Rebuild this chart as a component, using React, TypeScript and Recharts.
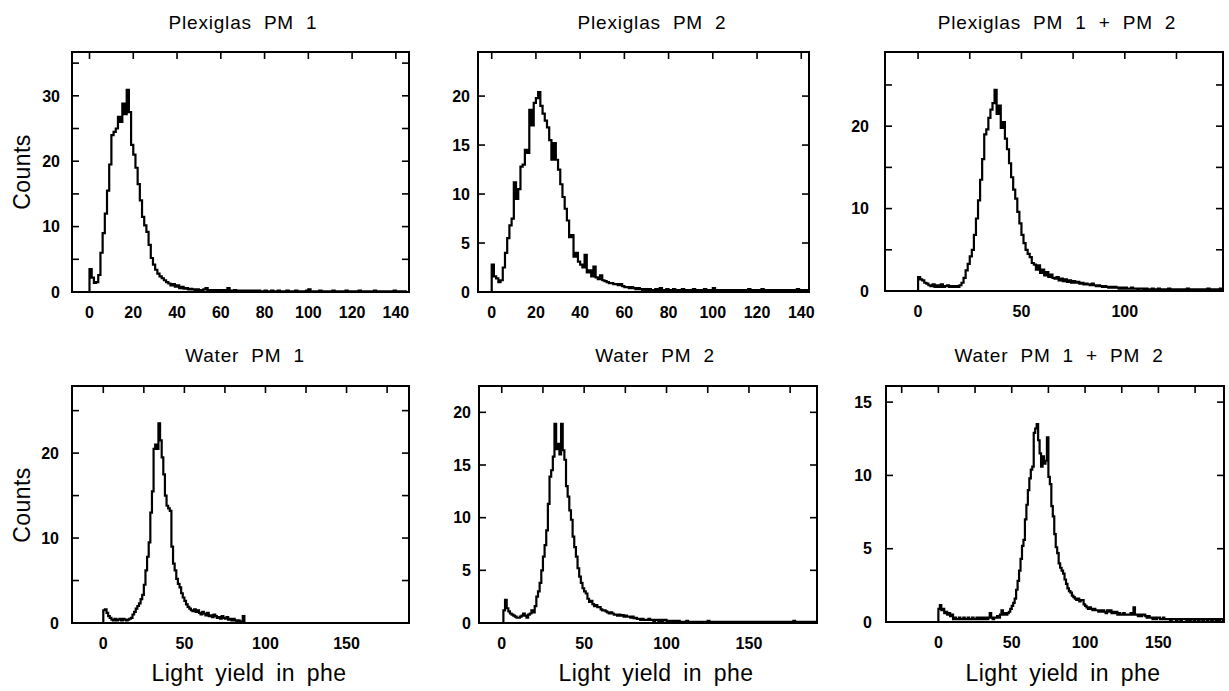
import React from "react";
import { LineChart, Line, XAxis, YAxis } from "recharts";

// every histogram: 1 phe wide bins, first bin at -1 phe
const BIN_START = -1;

const plexPm1Counts = [
  0,
  3.5, 2.2, 1.4, 1.5, 2.6, 6.0, 9.0, 12.0, 15.5, 19.5,
  24.0, 24.5, 25.0, 26.8, 26.0, 28.8, 27.2, 30.9, 27.5, 22.5,
  21.0, 19.0, 16.5, 14.0, 11.5, 10.2, 9.2, 7.2, 5.2, 4.2,
  3.4, 2.8, 2.4, 2.1, 1.8, 1.5, 1.3, 1.0, 1.2, 0.8,
  1.0, 0.6, 0.8, 0.5, 0.6, 0.4, 0.5, 0.4, 0.3, 0.4,
  0.3, 0.3, 0.4, 0.6, 0.3, 0.3, 0.2, 0.3, 0.2, 0.3,
  0.2, 0.3, 0.2, 0.6, 0.2, 0.2, 0.3, 0.2, 0.1, 0.2,
  0.2, 0.1, 0.2, 0.2, 0.1, 0.2, 0.1, 0.2, 0.1, 0.1,
  0.2, 0.1, 0.1, 0.2, 0.1, 0.1, 0.2, 0.1, 0.1, 0.1,
  0.2, 0.1, 0.1, 0.1, 0.2, 0.1, 0.1, 0.1, 0.1, 0.2,
  0.4, 0.1, 0.1, 0.1, 0.1, 0.2, 0.1, 0.1, 0.1, 0.1,
  0.1, 0.2, 0.1, 0.1, 0.1, 0.1, 0.1, 0.2, 0.1, 0.1,
  0.1, 0.1, 0.1, 0.2, 0.1, 0.1, 0.1, 0.1, 0.1, 0.1,
  0.2, 0.1, 0.1, 0.1, 0.1, 0.1, 0.1, 0.1, 0.1, 0.2,
  0.1, 0.1, 0.1, 0.1, 0.1, 0.1,
];

const plexPm2Counts = [
  0,
  2.8, 1.6, 1.4, 1.0, 1.2, 2.5, 4.0, 5.5, 6.8, 7.5,
  11.2, 9.5, 10.5, 12.8, 13.0, 14.5, 14.2, 18.6, 17.0, 19.3,
  19.8, 20.4, 19.0, 18.2, 17.5, 16.8, 15.5, 13.5, 15.2, 13.5,
  12.5, 11.0, 9.7, 8.5, 7.3, 5.6, 5.8, 3.6, 4.0, 3.1,
  2.8, 2.5, 3.8, 2.0, 2.2, 1.6, 2.6, 1.5, 1.3, 1.7,
  1.2, 1.1, 1.0, 0.9, 0.9, 0.8, 0.8, 0.7, 0.8, 0.6,
  0.5, 0.5, 0.4, 0.5, 0.4, 0.3, 0.4, 0.3, 0.2, 0.3,
  0.2, 0.3, 0.2, 0.2, 0.3, 0.2, 0.4, 0.2, 0.2, 0.3,
  0.2, 0.2, 0.3, 0.2, 0.2, 0.2, 0.3, 0.2, 0.2, 0.2,
  0.2, 0.3, 0.2, 0.2, 0.2, 0.2, 0.3, 0.2, 0.2, 0.2,
  0.4, 0.2, 0.2, 0.2, 0.2, 0.2, 0.2, 0.2, 0.2, 0.2,
  0.2, 0.2, 0.2, 0.2, 0.2, 0.2, 0.3, 0.2, 0.2, 0.2,
  0.2, 0.2, 0.3, 0.2, 0.2, 0.2, 0.2, 0.2, 0.2, 0.2,
  0.2, 0.2, 0.2, 0.2, 0.2, 0.2, 0.2, 0.2, 0.3, 0.2,
  0.2, 0.2, 0.2, 0.2, 0.2,
];

const plexSumCounts = [
  0,
  1.7, 1.4, 1.3, 1.0, 0.9, 0.7, 0.6, 0.8, 0.5, 0.7,
  0.5, 0.8, 0.5, 0.6, 0.7, 0.5, 0.6, 0.5, 0.6, 0.5,
  0.7, 1.0, 1.6, 2.5, 3.3, 4.2, 5.0, 6.8, 8.8, 11.0,
  13.5, 16.0, 19.0, 19.6, 21.0, 22.0, 22.8, 24.4, 21.5, 22.5,
  19.8, 20.5, 18.5, 17.2, 15.5, 13.8, 12.3, 11.2, 9.6, 8.2,
  6.8, 5.8, 5.0, 4.5, 4.1, 3.4, 3.2, 2.6, 3.1, 2.2,
  2.6, 1.9, 2.3, 1.7, 2.0, 1.6, 1.5, 1.7, 1.3, 1.5,
  1.2, 1.4, 1.1, 1.3, 1.0, 1.2, 1.0, 1.1, 0.9, 1.0,
  0.8, 0.9, 0.8, 0.7, 0.9, 0.7, 0.6, 0.7, 0.6, 0.5,
  0.6, 0.5, 0.4, 0.5, 0.4, 0.5, 0.4, 0.3, 0.4, 0.3,
  0.4, 0.3, 0.3, 0.4, 0.3, 0.3, 0.2, 0.3, 0.3, 0.2,
  0.3, 0.2, 0.2, 0.3, 0.2, 0.2, 0.3, 0.2, 0.2, 0.2,
  0.2, 0.3, 0.2, 0.2, 0.2, 0.2, 0.1, 0.2, 0.2, 0.2,
  0.3, 0.2, 0.2, 0.1, 0.2, 0.2, 0.2, 0.1, 0.2, 0.2,
  0.3, 0.2, 0.1, 0.2, 0.2, 0.1, 0.3, 0.2, 0.2,
];

const waterPm1Counts = [
  0,
  1.5, 1.6, 1.2, 0.8, 0.6, 0.4, 0.3, 0.5, 0.3, 0.4,
  0.5, 0.3, 0.5, 0.4, 0.3, 0.4, 0.5, 0.6, 1.0, 1.3,
  1.7, 2.0, 2.3, 2.8, 3.3, 4.5, 6.2, 7.8, 9.5, 13.0,
  15.5, 20.5, 21.0, 20.5, 23.5, 21.5, 19.5, 17.5, 15.0, 13.8,
  13.5, 13.2, 9.0, 7.0, 6.2, 5.2, 4.6, 4.2, 3.5, 3.0,
  2.6, 2.2, 1.9, 1.7, 1.5, 1.4, 1.6, 1.3, 1.5, 1.2,
  1.0, 1.3, 1.1, 0.9, 1.2, 0.8, 0.9, 0.7, 1.0, 0.8,
  0.6, 0.7, 0.5, 0.8, 0.6, 0.5, 0.7, 0.4, 0.5, 0.3,
  0.5, 0.3, 0.2, 0.3, 0.2, 0.2, 0.8, 0,
];

const waterPm2Counts = [
  0,
  0, 1.2, 2.2, 1.4, 1.1, 0.9, 0.8, 0.7, 0.6, 0.5,
  0.5, 0.6, 0.7, 0.9, 0.7, 0.5, 0.8, 0.9, 1.2, 1.0,
  1.6, 2.5, 3.0, 3.8, 5.0, 6.3, 7.4, 8.8, 11.3, 13.9,
  14.5, 15.8, 18.9, 16.5, 17.0, 16.0, 18.9, 16.4, 15.5, 13.0,
  12.0, 10.7, 9.8, 8.2, 7.2, 6.3, 5.2, 4.4, 3.8, 3.3,
  3.0, 2.8, 2.3, 2.0, 2.1, 1.8, 1.6, 1.7, 1.5, 1.5,
  1.3, 1.2, 1.2, 1.1, 1.0, 0.9, 1.0, 0.9, 0.8, 0.8,
  0.7, 0.8, 0.7, 0.75, 0.6, 0.7, 0.6, 0.6, 0.5, 0.6,
  0.45, 0.5, 0.4, 0.4, 0.3, 0.4, 0.3, 0.3, 0.3, 0.4,
  0.3, 0.3, 0.2, 0.3, 0.3, 0.2, 0.3, 0.2, 0.3, 0.3,
  0.2, 0.2, 0.2, 0.2, 0.1, 0.2, 0.1, 0.2, 0.1, 0.1,
  0.1, 0.1, 0.2, 0.1, 0.1, 0.1, 0.1, 0.1, 0.1, 0.1,
  0.1, 0.1, 0.1, 0.1, 0.1, 0.2, 0.1, 0.1, 0.1, 0.1,
  0.1, 0.1, 0.1, 0.1, 0.1, 0.1, 0.1, 0.1, 0.1, 0.1,
  0.1, 0.1, 0.1, 0.1, 0.1, 0.1, 0.1, 0.1, 0.1, 0.1,
  0.1, 0.1, 0.1, 0.1, 0.1, 0.1, 0.1, 0.1, 0.1, 0.1,
  0.1, 0.1, 0.1, 0.1, 0.1, 0.1, 0.1, 0.1, 0.1, 0.1,
  0.1, 0.1, 0.1, 0.1, 0.1, 0.1, 0.1, 0.2, 0.1, 0.1,
  0.1, 0.1, 0.1, 0.1, 0.1, 0.1, 0.1, 0.1, 0.1, 0.1,
  0.1, 0.1,
];

const waterSumCounts = [
  0,
  0.9, 1.15, 0.8, 0.9, 0.6, 0.7, 0.5, 0.6, 0.4, 0.5,
  0.2, 0.3, 0.2, 0.2, 0.3, 0.2, 0.2, 0.3, 0.2, 0.2,
  0.3, 0.2, 0.2, 0.3, 0.2, 0.2, 0.3, 0.2, 0.3, 0.2,
  0.3, 0.2, 0.3, 0.2, 0.3, 0.6, 0.3, 0.2, 0.3, 0.3,
  0.4, 0.3, 0.5, 0.8, 0.5, 0.6, 0.5, 0.6, 0.7, 0.9,
  1.1, 1.3, 1.6, 2.2, 2.8, 3.5, 4.3, 5.2, 5.6, 7.0,
  8.0, 9.0, 9.8, 10.4, 10.6, 12.9, 13.2, 13.5, 12.4, 11.5,
  10.6, 11.3, 10.8, 11.0, 12.6, 9.9, 9.4, 7.9, 7.2, 6.0,
  5.1, 4.7, 4.0, 3.7, 3.5, 3.3, 2.9, 2.6, 2.3, 2.1,
  2.0, 1.8, 1.7, 1.6, 1.5, 1.6, 1.4, 1.5, 1.5, 1.2,
  1.1, 1.0, 0.9, 1.0, 0.9, 0.8, 0.9, 0.8, 0.8, 0.7,
  0.8, 0.7, 0.8, 0.7, 0.6, 0.8, 0.7, 0.8, 0.6, 0.7,
  0.6, 0.7, 0.5, 0.6, 0.5, 0.5, 0.6, 0.5, 0.5, 0.5,
  0.5, 0.6, 0.5, 1.0, 0.5, 0.5, 0.4, 0.5, 0.4, 0.5,
  0.5, 0.4, 0.3, 0.4, 0.3, 0.3, 0.2, 0.3, 0.2, 0.3,
  0.3, 0.2, 0.2, 0.3, 0.2, 0.2, 0.2, 0.2, 0.1, 0.2,
  0.2, 0.2, 0.1, 0.2, 0.2, 0.1, 0.2, 0.2, 0.2, 0.1,
  0.2, 0.1, 0.2, 0.2, 0.1, 0.2, 0.2, 0.1, 0.2, 0.2,
  0.1, 0.2, 0.2, 0.1, 0.2, 0.2, 0.1, 0.2, 0.2, 0.1,
  0.2, 0.1, 0.2, 0.2, 0.1, 0.2,
];

const titles = [
  "Plexiglas PM 1",
  "Plexiglas PM 2",
  "Plexiglas PM 1 + PM 2",
  "Water PM 1",
  "Water PM 2",
  "Water PM 1 + PM 2",
];

// tick values
const xTicksBy20 = [0, 20, 40, 60, 80, 100, 120, 140];
const xLabels50 = [0, 50, 100];
const xLabels50Wide = [0, 50, 100, 150];
const xTopBy25 = [0, 25, 50, 75, 100, 125];
const xTopBy25Wide = [0, 25, 50, 75, 100, 125, 150, 175];
const xTopBy25Neg = [-25, 0, 25, 50, 75, 100, 125, 150, 175];
const yTicks35 = [0, 5, 10, 15, 20, 25, 30, 35];
const yTicks25 = [0, 5, 10, 15, 20, 25];
const yTicks20 = [0, 5, 10, 15, 20];
const yTicks15 = [0, 5, 10, 15];

const FONT = "'Liberation Sans', Arial, sans-serif";
const YW = 50; // y axis width
const MT = 4;
const MR = 24; // room for the last x label
const XH = 30;
const TICK_LEN = 7;

type Panel = {
  title: string;
  counts: number[];
  box: [number, number, number, number]; // left, top, right, bottom of frame
  xDomain: [number, number];
  yMax: number;
  xLabels: number[];
  xTop: number[];
  yTicks: number[];
  yLabelStep: number;
  gap: number;
  titleAt: [number, number];
};

const panels: Panel[] = [
  { title: titles[0], counts: plexPm1Counts, box: [72, 52, 409, 292], xDomain: [-8, 146], yMax: 36.7, xLabels: xTicksBy20, xTop: xTicksBy20, yTicks: yTicks35, yLabelStep: 10, gap: 12, titleAt: [243, 29] },
  { title: titles[1], counts: plexPm2Counts, box: [478, 52, 809, 292], xDomain: [-6.2, 143.5], yMax: 24.5, xLabels: xTicksBy20, xTop: xTicksBy20, yTicks: yTicks20, yLabelStep: 5, gap: 8, titleAt: [652, 29] },
  { title: titles[2], counts: plexSumCounts, box: [885, 52, 1223, 291], xDomain: [-16, 147.5], yMax: 29, xLabels: xLabels50, xTop: xTopBy25, yTicks: yTicks25, yLabelStep: 10, gap: 16, titleAt: [1057, 29] },
  { title: titles[3], counts: waterPm1Counts, box: [72, 386, 409, 623], xDomain: [-19.3, 188.5], yMax: 27.9, xLabels: xLabels50Wide, xTop: xTopBy25Wide, yTicks: yTicks25, yLabelStep: 10, gap: 13, titleAt: [245, 362] },
  { title: titles[4], counts: waterPm2Counts, box: [479, 386, 817, 623], xDomain: [-13.8, 191.3], yMax: 22.5, xLabels: xLabels50Wide, xTop: xTopBy25Wide, yTicks: yTicks20, yLabelStep: 5, gap: 8, titleAt: [655, 362] },
  { title: titles[5], counts: waterSumCounts, box: [886, 386, 1224, 622], xDomain: [-35.7, 194.7], yMax: 16.1, xLabels: xLabels50Wide, xTop: xTopBy25Neg, yTicks: yTicks15, yLabelStep: 5, gap: 14, titleAt: [1059, 362] },
];

const tickFont = { fill: "#000", fontSize: 16, fontWeight: 700, fontFamily: FONT };

// y tick: label outside on the left, inward ticks on both left and right frame
function makeYTick(p: Panel) {
  const w = p.box[2] - p.box[0];
  return (props: any) => {
    const { y, payload } = props;
    const v = payload.value as number;
    return (
      <g>
        <line x1={YW} x2={YW + TICK_LEN} y1={y} y2={y} stroke="#000" strokeWidth={1.6} />
        <line x1={YW + w - TICK_LEN} x2={YW + w} y1={y} y2={y} stroke="#000" strokeWidth={1.6} />
        {v % p.yLabelStep === 0 && (
          <text x={YW - p.gap} y={y} dy="0.36em" textAnchor="end" style={tickFont}>
            {v}
          </text>
        )}
      </g>
    );
  };
}

// x tick: inward tick on the top frame, label below the bottom frame
function makeXTick(p: Panel) {
  const h = p.box[3] - p.box[1];
  return (props: any) => {
    const { x, payload } = props;
    const v = payload.value as number;
    return (
      <g>
        <line x1={x} x2={x} y1={MT} y2={MT + TICK_LEN} stroke="#000" strokeWidth={1.6} />
        {p.xLabels.includes(v) && (
          <text x={x} y={MT + h + 25.5} textAnchor="middle" style={tickFont}>
            {v}
          </text>
        )}
      </g>
    );
  };
}

function Histogram({ p }: { p: Panel }) {
  const [l, t, r, b] = p.box;
  const data = p.counts.map((c, i) => ({ x: BIN_START + i, y: c }));
  const xTicks = Array.from(new Set([...p.xTop, ...p.xLabels])).sort((a, c) => a - c);

  return (
    <div style={{ position: "absolute", left: l - YW, top: t - MT }}>
      <LineChart
        width={YW + (r - l) + MR}
        height={MT + (b - t) + XH}
        data={data}
        margin={{ top: MT, right: MR, bottom: 0, left: 0 }}
      >
        <XAxis
          dataKey="x"
          type="number"
          domain={p.xDomain}
          allowDataOverflow
          ticks={xTicks}
          interval={0}
          height={XH}
          axisLine={false}
          tickLine={false}
          tick={makeXTick(p)}
        />
        <YAxis
          type="number"
          domain={[0, p.yMax]}
          allowDataOverflow
          ticks={p.yTicks}
          interval={0}
          width={YW}
          axisLine={false}
          tickLine={false}
          tick={makeYTick(p)}
        />
        <Line
          dataKey="y"
          type="stepAfter"
          stroke="#000"
          strokeWidth={2.2}
          dot={false}
          isAnimationActive={false}
        />
      </LineChart>
    </div>
  );
}

export default function App() {
  const titleStyle = { fontFamily: FONT, fontSize: 19, letterSpacing: 0.8, wordSpacing: 6, fill: "#000" };
  const axisTitle = { fontFamily: FONT, fontSize: 23, letterSpacing: 0.4, wordSpacing: 5, fill: "#000" };

  return (
    <div
      style={{
        position: "absolute",
        left: 0,
        top: 0,
        width: 1229,
        height: 691,
        background: "#fff",
        overflow: "hidden",
      }}
    >
      {panels.map((p) => (
        <Histogram key={p.title} p={p} />
      ))}
      <svg width={1229} height={691} style={{ position: "absolute", left: 0, top: 0, pointerEvents: "none" }}>
        {panels.map((p) => (
          <rect
            key={"f" + p.title}
            x={p.box[0]}
            y={p.box[1]}
            width={p.box[2] - p.box[0]}
            height={p.box[3] - p.box[1]}
            fill="none"
            stroke="#000"
            strokeWidth={2}
          />
        ))}
        {panels.map((p) => (
          <text key={p.title} x={p.titleAt[0]} y={p.titleAt[1]} textAnchor="middle" style={titleStyle}>
            {p.title}
          </text>
        ))}
        <text transform="translate(30,172) rotate(-90)" textAnchor="middle" style={axisTitle}>
          Counts
        </text>
        <text transform="translate(30,505) rotate(-90)" textAnchor="middle" style={axisTitle}>
          Counts
        </text>
        {[249, 656, 1063].map((x) => (
          <text key={x} x={x} y={681} textAnchor="middle" style={axisTitle}>
            Light yield in phe
          </text>
        ))}
      </svg>
    </div>
  );
}
